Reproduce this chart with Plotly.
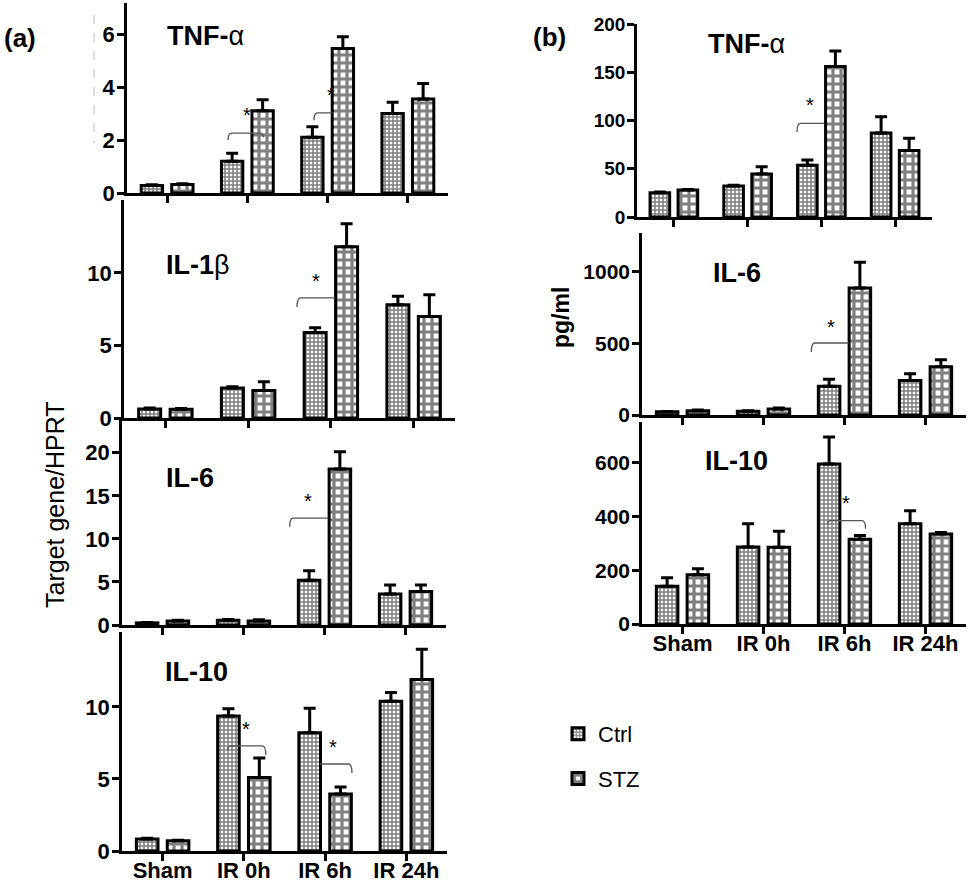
import plotly.graph_objects as go

# ---------------- data ----------------
categories = ["Sham", "IR 0h", "IR 6h", "IR 24h"]

# (a) qPCR, Target gene / HPRT  (mean, upper SEM)
a_tnf_ctrl = [0.28, 1.20, 2.10, 3.00]
a_tnf_ctrl_sem = [0.03, 0.30, 0.40, 0.42]
a_tnf_stz = [0.32, 3.10, 5.45, 3.55]
a_tnf_stz_sem = [0.03, 0.42, 0.45, 0.58]

a_il1b_ctrl = [0.62, 2.07, 5.90, 7.80]
a_il1b_ctrl_sem = [0.07, 0.08, 0.33, 0.60]
a_il1b_stz = [0.60, 1.90, 11.80, 7.00]
a_il1b_stz_sem = [0.06, 0.60, 1.60, 1.50]

a_il6_ctrl = [0.25, 0.55, 5.20, 3.60]
a_il6_ctrl_sem = [0.05, 0.10, 1.10, 1.05]
a_il6_stz = [0.45, 0.45, 18.10, 3.90]
a_il6_stz_sem = [0.10, 0.15, 2.00, 0.75]

a_il10_ctrl = [0.83, 9.37, 8.20, 10.40]
a_il10_ctrl_sem = [0.05, 0.50, 1.70, 0.60]
a_il10_stz = [0.72, 5.10, 3.95, 11.90]
a_il10_stz_sem = [0.03, 1.35, 0.50, 2.10]

# (b) protein, pg/ml
b_tnf_ctrl = [25, 32, 53.5, 87]
b_tnf_ctrl_sem = [1, 1, 5.5, 17]
b_tnf_stz = [28, 44.5, 156, 69]
b_tnf_stz_sem = [0.5, 7.5, 16, 12.5]

b_il6_ctrl = [22, 27, 200, 240]
b_il6_ctrl_sem = [3, 3, 50, 48]
b_il6_stz = [30, 42, 885, 336]
b_il6_stz_sem = [5, 7, 180, 50]

b_il10_ctrl = [140, 286, 595, 373]
b_il10_ctrl_sem = [32, 87, 100, 48]
b_il10_stz = [183, 285, 315, 335]
b_il10_stz_sem = [22, 60, 14, 5]

series_names = ["Ctrl", "STZ"]

# ---------------- layout helpers ----------------
W, H = 972, 885
FONT = "Arial, Liberation Sans, sans-serif"


def xdom(left, right):
    return [left / W, right / W]


def ydom(top, bottom):
    return [1 - bottom / H, 1 - top / H]


panels = [
    dict(title="<b>TNF-</b>α", ctrl=(a_tnf_ctrl, a_tnf_ctrl_sem), stz=(a_tnf_stz, a_tnf_stz_sem),
         xd=(127, 448), yd=(3, 193), yr=7.17, yt=[0, 2, 4, 6], tpos=(205, 36), xlab=False, tf=22),
    dict(title="<b>IL-1</b>β", ctrl=(a_il1b_ctrl, a_il1b_ctrl_sem), stz=(a_il1b_stz, a_il1b_stz_sem),
         xd=(124, 455), yd=(200, 418), yr=15.03, yt=[0, 5, 10], tpos=(198, 265), xlab=False, tf=22),
    dict(title="<b>IL-6</b>", ctrl=(a_il6_ctrl, a_il6_ctrl_sem), stz=(a_il6_stz, a_il6_stz_sem),
         xd=(122, 446), yd=(420, 625), yr=23.8, yt=[0, 5, 10, 15, 20], tpos=(190, 478), xlab=False, tf=22),
    dict(title="<b>IL-10</b>", ctrl=(a_il10_ctrl, a_il10_ctrl_sem), stz=(a_il10_stz, a_il10_stz_sem),
         xd=(122, 447), yd=(632, 851), yr=15.2, yt=[0, 5, 10], tpos=(196, 672), xlab=True, tf=22),
    dict(title="<b>TNF-</b>α", ctrl=(b_tnf_ctrl, b_tnf_ctrl_sem), stz=(b_tnf_stz, b_tnf_stz_sem),
         xd=(637, 932), yd=(24, 217), yr=200, yt=[0, 50, 100, 150, 200], tpos=(746, 44), xlab=False, tf=19),
    dict(title="<b>IL-6</b>", ctrl=(b_il6_ctrl, b_il6_ctrl_sem), stz=(b_il6_stz, b_il6_stz_sem),
         xd=(642, 966), yd=(233, 415), yr=1269, yt=[0, 500, 1000], tpos=(737, 273), xlab=False, tf=21),
    dict(title="<b>IL-10</b>", ctrl=(b_il10_ctrl, b_il10_ctrl_sem), stz=(b_il10_stz, b_il10_stz_sem),
         xd=(642, 966), yd=(422, 624), yr=751, yt=[0, 200, 400, 600], tpos=(736, 461), xlab=True, tf=21),
]

# significance brackets: panel, x-left, x-right, y of bar, y of left leg end, y of right leg end, star x, star y
significance = [
    (1, 0.76, 1.20, 2.26, 2.0, 2.1, 1.00, 3.13),
    (1, 1.83, 2.06, 3.02, 2.75, None, 2.04, 3.90),
    (2, 1.59, 2.05, 8.28, 7.65, None, 1.82, 9.80),
    (3, 1.57, 2.05, 12.4, 11.4, None, 1.80, 15.0),
    (4, 0.80, 1.27, 7.30, 7.0, 6.67, 1.02, 8.8),
    (4, 1.94, 2.33, 6.04, None, 5.42, 2.10, 7.57),
    (5, 1.67, 2.04, 97, 88, None, 1.84, 121),
    (6, 1.59, 2.05, 502, 440, None, 1.83, 648),
    (7, 1.79, 2.26, 384, 370, 354, 2.02, 470),
]

patterns = {
    "Ctrl": dict(shape="+", fgcolor="black", bgcolor="white", size=4, solidity=0.62),
    "STZ": dict(shape="+", fgcolor="black", bgcolor="white", size=8, solidity=0.64),
}

idx = list(range(len(categories)))

fig = go.Figure()
layout_axes = {}
annotations = []
shapes = []

for i, p in enumerate(panels, start=1):
    suf = "" if i == 1 else str(i)
    xa, ya = "x" + suf, "y" + suf
    for name, (vals, sem) in zip(series_names, [p["ctrl"], p["stz"]]):
        fig.add_trace(go.Bar(
            x=idx, y=vals, name=name, legendgroup=name, showlegend=(i == 1),
            xaxis=xa, yaxis=ya,
            marker=dict(color="white", line=dict(color="black", width=3), pattern=patterns[name]),
            error_y=dict(type="data", symmetric=False, array=sem, arrayminus=[0] * len(sem),
                         color="black", thickness=3, width=6),
            hoverinfo="skip",
        ))
    common = dict(showline=True, linecolor="black", linewidth=2.5, ticks="outside", ticklen=7,
                  tickwidth=2.5, tickcolor="black", showgrid=False, zeroline=False,
                  fixedrange=True, automargin=False)
    layout_axes["xaxis" + suf] = dict(
        domain=xdom(*p["xd"]), range=[-0.5, 3.5], anchor=ya, tickvals=idx,
        ticktext=categories, showticklabels=p["xlab"], ticklabelstandoff=-9,
        tickfont=dict(family=FONT, size=22, color="black", weight="bold"), **common)
    layout_axes["yaxis" + suf] = dict(
        domain=ydom(*p["yd"]), range=[0, p["yr"]], anchor=xa, tickvals=p["yt"],
        ticklabelstandoff=-2,
        tickfont=dict(family=FONT, size=p["tf"], color="black", weight="bold"), **common)
    annotations.append(dict(text=p["title"], x=p["tpos"][0] / W, y=1 - p["tpos"][1] / H,
                            xref="paper", yref="paper", showarrow=False,
                            xanchor="center", yanchor="middle",
                            font=dict(family=FONT, size=27, color="black")))


def bracket_path(xl, xr, yh, yl, yr, dx=0.045):
    s = f"M{xl},{yl} Q{xl},{yh} {xl + dx},{yh}" if yl is not None else f"M{xl},{yh}"
    if yr is not None:
        s += f" L{xr - dx},{yh} Q{xr},{yh} {xr},{yr}"
    else:
        s += f" L{xr},{yh}"
    return s


for (pi, xl, xr, yh, yl, yr, sx, sy) in significance:
    suf = "" if pi == 1 else str(pi)
    shapes.append(dict(type="path", xref="x" + suf, yref="y" + suf,
                       path=bracket_path(xl, xr, yh, yl, yr),
                       line=dict(color="#555555", width=1.3)))
    annotations.append(dict(text="*", x=sx, y=sy, xref="x" + suf, yref="y" + suf,
                            showarrow=False, yshift=-5, xanchor="center", yanchor="middle",
                            font=dict(family=FONT, size=20, color="black")))

# panel letters & axis titles
annotations += [
    dict(text="<b>(a)</b>", x=20 / W, y=1 - 38 / H),
    dict(text="<b>(b)</b>", x=549 / W, y=1 - 37 / H),
]
for a in annotations[-2:]:
    a.update(xref="paper", yref="paper", showarrow=False, xanchor="center", yanchor="middle",
             font=dict(family=FONT, size=26, color="black"))
annotations += [
    dict(text="Target gene/HPRT", x=55 / W, y=1 - 505 / H, xref="paper", yref="paper",
         showarrow=False, textangle=-90, xanchor="center", yanchor="middle",
         font=dict(family=FONT, size=25, color="black")),
    dict(text="<b>pg/ml</b>", x=561 / W, y=1 - 318 / H, xref="paper", yref="paper",
         showarrow=False, textangle=-90, xanchor="center", yanchor="middle",
         font=dict(family=FONT, size=23, color="black")),
]

# faint dashed artefact left of the first panel
shapes.append(dict(type="line", xref="paper", yref="paper", x0=94 / W, x1=94 / W,
                   y0=1 - 15 / H, y1=1 - 143 / H, line=dict(color="#bbbbbb", width=1, dash="dash")))

fig.update_layout(
    width=W, height=H, margin=dict(l=0, r=0, t=0, b=0, autoexpand=False),
    paper_bgcolor="white", plot_bgcolor="white",
    barmode="group", bargap=0.24, bargroupgap=0.3,
    font=dict(family=FONT, color="black"),
    showlegend=True,
    legend=dict(x=558 / W, y=1 - 713 / H, xanchor="left", yanchor="top",
                font=dict(family=FONT, size=22, color="black"),
                itemwidth=30, tracegroupgap=13, bgcolor="rgba(0,0,0,0)", traceorder="grouped"),
    annotations=annotations, shapes=shapes,
    **layout_axes,
)

fig.write_html("out.html", config={"displayModeBar": False},
               post_script="document.body.style.margin='0';document.body.style.padding='0';")
